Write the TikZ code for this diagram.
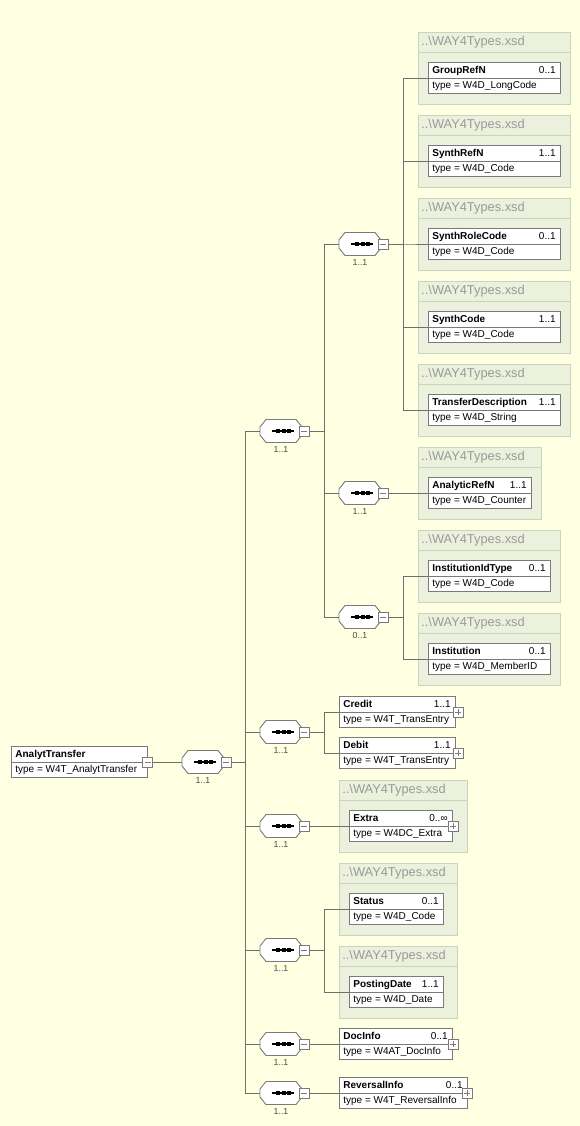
\documentclass[tikz,border=0pt]{standalone}
\usepackage{fontspec}
\setmainfont{Liberation Sans}

\definecolor{paper}{HTML}{FFFFE1}
\definecolor{grpfill}{HTML}{EBF1DC}
\definecolor{grpedge}{HTML}{C9D4BC}
\definecolor{grptext}{HTML}{9A9A9A}
\definecolor{boxedge}{HTML}{7A7A7A}
\definecolor{wire}{HTML}{6E6E6E}

\tikzset{
  elbox/.style={draw=boxedge, fill=white, minimum height=31*0.02cm, inner sep=0pt},
  eltitle/.style={font=\fontsize{5.7}{6}\selectfont\bfseries, inner sep=0pt, text height=4.2pt, text depth=1.2pt},
  eltype/.style={font=\fontsize{5.7}{6}\selectfont, inner sep=0pt, text height=4.2pt, text depth=1.2pt},
  grpbox/.style={draw=grpedge, fill=grpfill, inner sep=0pt, minimum height=72*0.02cm},
  grphead/.style={font=\fontsize{7.3}{8}\selectfont, text=grptext, inner sep=0pt},
  seqbody/.style={minimum width=42*0.02cm, minimum height=23*0.02cm, inner sep=0pt},
  seqedge/.style={draw=boxedge, fill=white, line width=0.5pt},
  pmbox/.style={draw=boxedge, fill=white, minimum size=10*0.02cm, inner sep=0pt},
  pmsign/.style={draw=boxedge, line width=0.4pt},
  occlabel/.style={font=\fontsize{5}{6}\selectfont, text=black!70, inner sep=0pt},
  conn/.style={draw=wire, line width=0.5pt},
}

% element: name, left, right, divider y, title, occurrence, type
\newcommand{\xsdelem}[7]{%
  \node[elbox, minimum width={(#3-#2)*0.02cm}, anchor=west] (#1) at (#2,#4) {};
  \draw[boxedge] (#1.west) -- (#1.east);
  \node[eltitle, anchor=west] (#1-name) at (#2+4,#4-7.5) {#5};
  \node[eltype, anchor=east] (#1-occ) at (#3-4,#4-7.5) {#6};
  \node[eltype, anchor=west] (#1-type) at (#2+4,#4+8) {#7};
}
% group frame: name, left, right, connector y
\newcommand{\xsdgroup}[4]{%
  \node[grpbox, minimum width={(#3-#2)*0.02cm}, anchor=north west] (#1) at (#2,#4-46) {};
  \draw[grpedge] (#2,#4-26) -- (#3,#4-26);
  \node[grphead, anchor=west] (#1-head) at (#2+3,#4-36) {..\textbackslash WAY4Types.xsd};
}
% sequence compositor: name, left, y, occurrence
\newcommand{\seqnode}[4]{%
  \node[seqbody, anchor=west] (#1) at (#2,#3) {};
  \draw[seqedge] (#2+6,#3-11.5) -- (#2+36,#3-11.5) -- (#2+42,#3-4) -- (#2+42,#3+4)
    -- (#2+36,#3+11.5) -- (#2+6,#3+11.5) -- (#2,#3+4) -- (#2,#3-4) -- cycle;
  \draw[black, line width=0.6pt] (#2+12,#3) -- (#2+34,#3);
  \foreach \k in {16,21.5,27} \fill (#2+\k,#3-1.8) rectangle ++(4.2,3.6);
  \node[pmbox] (#1-pm) at (#2+44,#3) {};
  \draw[pmsign] ([xshift=-0.06cm]#1-pm.center) -- ([xshift=0.06cm]#1-pm.center);
  \node[occlabel] (#1-occ) at (#2+21,#3+18) {#4};
}
% expand box: name, x, y
\newcommand{\plusbox}[3]{%
  \node[pmbox] (#1) at (#2,#3) {};
  \draw[pmsign] ([xshift=-0.06cm]#1.center) -- ([xshift=0.06cm]#1.center);
  \draw[pmsign] ([yshift=-0.06cm]#1.center) -- ([yshift=0.06cm]#1.center);
}

\begin{document}
\begin{tikzpicture}[x=0.02cm, y=-0.02cm]
  \useasboundingbox (0,0) rectangle (580,1126);
  \fill[paper] (0,0) rectangle (580,1126);

  % root
  \xsdelem{root}{11}{147}{762}{AnalytTransfer}{}{type = W4T\_AnalytTransfer}
  \node[pmbox] (root-pm) at (root.east) {};
  \draw[pmsign] ([xshift=-0.06cm]root-pm.center) -- ([xshift=0.06cm]root-pm.center);

  % compositors
  \seqnode{seq}{182}{762}{1..1}
  \seqnode{seqA}{260}{431}{1..1}
  \seqnode{seqB}{260}{732}{1..1}
  \seqnode{seqC}{260}{826}{1..1}
  \seqnode{seqD}{260}{950}{1..1}
  \seqnode{seqE}{260}{1044}{1..1}
  \seqnode{seqF}{260}{1093}{1..1}
  \seqnode{seqAa}{339}{244}{1..1}
  \seqnode{seqAb}{339}{493}{1..1}
  \seqnode{seqAc}{339}{617}{0..1}

  % referenced elements
  \xsdgroup{g1}{418}{570}{78}
  \xsdelem{groupRefN}{428}{560}{78}{GroupRefN}{0..1}{type = W4D\_LongCode}
  \xsdgroup{g2}{418}{570}{161}
  \xsdelem{synthRefN}{428}{560}{161}{SynthRefN}{1..1}{type = W4D\_Code}
  \xsdgroup{g3}{418}{570}{244}
  \xsdelem{synthRoleCode}{428}{560}{244}{SynthRoleCode}{0..1}{type = W4D\_Code}
  \xsdgroup{g4}{418}{570}{327}
  \xsdelem{synthCode}{428}{560}{327}{SynthCode}{1..1}{type = W4D\_Code}
  \xsdgroup{g5}{418}{570}{410}
  \xsdelem{transferDescription}{428}{560}{410}{TransferDescription}{1..1}{type = W4D\_String}
  \xsdgroup{g6}{418}{541}{493}
  \xsdelem{analyticRefN}{428}{531}{493}{AnalyticRefN}{1..1}{type = W4D\_Counter}
  \xsdgroup{g7}{418}{560}{576}
  \xsdelem{institutionIdType}{428}{550}{576}{InstitutionIdType}{0..1}{type = W4D\_Code}
  \xsdgroup{g8}{418}{560}{659}
  \xsdelem{institution}{428}{550}{659}{Institution}{0..1}{type = W4D\_MemberID}

  \xsdelem{credit}{339}{455}{712}{Credit}{1..1}{type = W4T\_TransEntry}
  \plusbox{credit-pm}{458}{712}
  \xsdelem{debit}{339}{455}{753}{Debit}{1..1}{type = W4T\_TransEntry}
  \plusbox{debit-pm}{458}{753}

  \xsdgroup{g9}{339}{467}{826}
  \xsdelem{extra}{349}{452}{826}{Extra}{0..∞}{type = W4DC\_Extra}
  \plusbox{extra-pm}{453}{826}
  \xsdgroup{g10}{339}{457}{909}
  \xsdelem{status}{349}{443}{909}{Status}{0..1}{type = W4D\_Code}
  \xsdgroup{g11}{339}{457}{992}
  \xsdelem{postingDate}{349}{443}{992}{PostingDate}{1..1}{type = W4D\_Date}

  \xsdelem{docInfo}{339}{452}{1044}{DocInfo}{0..1}{type = W4AT\_DocInfo}
  \plusbox{docInfo-pm}{453}{1044}
  \xsdelem{reversalInfo}{339}{467}{1093}{ReversalInfo}{0..1}{type = W4T\_ReversalInfo}
  \plusbox{reversalInfo-pm}{467}{1093}

  % connectors
  \draw[conn] (root-pm.east) -- (seq.west);
  \foreach \c in {seqA,seqB,seqC,seqD,seqE,seqF}
    \draw[conn] (seq-pm.east) -- ++(14,0) |- (\c.west);
  \foreach \c in {seqAa,seqAb,seqAc}
    \draw[conn] (seqA-pm.east) -- ++(15,0) |- (\c.west);
  \foreach \c in {groupRefN,synthRefN,synthRoleCode,synthCode,transferDescription}
    \draw[conn] (seqAa-pm.east) -- ++(15,0) |- (\c.west);
  \draw[conn] (seqAb-pm.east) -- (analyticRefN.west);
  \foreach \c in {institutionIdType,institution}
    \draw[conn] (seqAc-pm.east) -- ++(15,0) |- (\c.west);
  \foreach \c in {credit,debit}
    \draw[conn] (seqB-pm.east) -- ++(15,0) |- (\c.west);
  \draw[conn] (seqC-pm.east) -- (extra.west);
  \foreach \c in {status,postingDate}
    \draw[conn] (seqD-pm.east) -- ++(15,0) |- (\c.west);
  \draw[conn] (seqE-pm.east) -- (docInfo.west);
  \draw[conn] (seqF-pm.east) -- (reversalInfo.west);
\end{tikzpicture}
\end{document}
